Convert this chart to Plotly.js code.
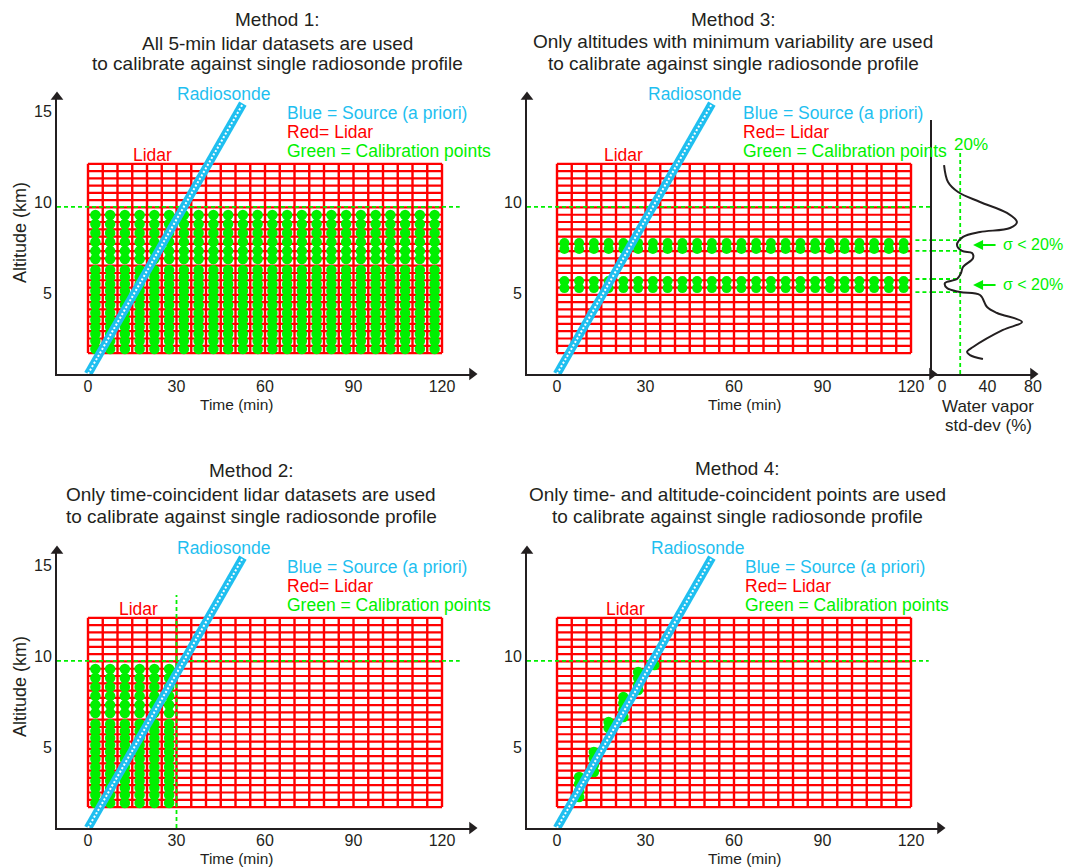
<!DOCTYPE html>
<html><head><meta charset="utf-8">
<script src="https://cdn.plot.ly/plotly-3.0.1.min.js"></script>
<style>html,body{margin:0;padding:0;background:#fff}</style>
</head><body><div id="chart" style="width:1066px;height:867px"></div>
<script>
// ---------------- data ----------------
const lidarTimeEdges = [0,5,10,15,20,25,30,35,40,45,50,55,60,65,70,75,80,85,90,95,100,105,110,115,120];
const lidarAltEdges = [1.7,2.1,2.5,2.9,3.3,3.7,4.1,4.5,4.9,5.3,5.7,6.1,6.5,6.9,7.3,7.7,8.1,8.5,8.9,9.3,9.7,10.1,10.5,10.9,11.3,11.7,12.1];
const profileTimes = [2.5,7.5,12.5,17.5,22.5,27.5,32.5,37.5,42.5,47.5,52.5,57.5,62.5,67.5,72.5,77.5,82.5,87.5,92.5,97.5,102.5,107.5,112.5,117.5];
const m1CalibAlts = [9.29,8.79,8.30,7.80,7.31,6.87,6.26,5.88,5.49,5.11,4.73,4.34,3.90,3.52,3.13,2.75,2.36,1.92];
const m2CalibTimes = [2.5,7.5,12.5,17.5,22.5,27.5];
const m3CalibAlts = [7.75,7.42,5.66,5.27];
const m4CalibTimes = [7.5,7.5,7.5,7.5,12.5,12.5,12.5,12.5,17.5,17.5,22.5,22.5,22.5,22.5,27.5,27.5,27.5,27.5,33];
const m4CalibAlts  = [3.35,2.97,2.58,2.25,4.73,4.40,4.01,3.63,6.37,6.04,7.75,7.42,7.03,6.65,9.12,8.79,8.41,8.13,9.5];
const radiosondeTime = [0, 52.5];
const radiosondeAlt = [0.55, 15.4];
const calibTopAlt = 9.73;          // green dashed "10 km" limit
const m2CutoffTime = 30;           // end of time-coincident datasets
const m2CutoffTop = 13.35;
const stdAlt = [12.03,11.10,10.55,10.0,9.40,8.90,8.57,8.35,8.08,7.64,7.31,7.20,6.92,6.43,6.10,5.77,5.55,5.27,5.05,4.89,4.23,3.90,3.41,2.97,2.03,1.76,1.59,1.37];
const stdDev = [1.8,5.3,14.1,33.4,57.1,65.9,59.8,33.4,18.5,13.2,17.6,26.4,27.3,18.5,16.7,13.2,2.6,4.4,15.8,33.4,39.6,48.4,70.3,53.6,27.3,22.0,24.6,36.0];
const thresholdPct = 16;
const thresholdTop = 12.86;
const lowSigmaAlts = [7.91,7.31,5.77,5.05];
const timeTicks = [0,30,60,90,120];
const stdTicks = [0,40,80];

// ---------------- layout helpers ----------------
const W = 1066, H = 867;
const F = 'Arial, "Liberation Sans", sans-serif';
const INK = '#231f20', RED = '#ff0000', GREEN = '#00f000', CYAN = '#1fbff0';
const px = v => v / W, py = v => 1 - v / H;
const tScale = 2.95, aScale = 18.2;           // px per minute, px per km
const tAt = (p, p0) => (p - p0) / tScale;
const aAt = (p, p0) => (p0 - p) / aScale;

const traces = [];
const annotations = [];

function gridTraces(xa, ya) {
  const hx = [], hy = [], vx = [], vy = [];
  const t0 = lidarTimeEdges[0], t1 = lidarTimeEdges[lidarTimeEdges.length - 1];
  const a0 = lidarAltEdges[0], a1 = lidarAltEdges[lidarAltEdges.length - 1];
  lidarAltEdges.forEach(a => { hx.push(t0, t1, null); hy.push(a, a, null); });
  lidarTimeEdges.forEach(t => { vx.push(t, t, null); vy.push(a0, a1, null); });
  traces.push({x: hx, y: hy, xaxis: xa, yaxis: ya, mode: 'lines', line: {color: RED, width: 2.2}, hoverinfo: 'skip'});
  traces.push({x: vx, y: vy, xaxis: xa, yaxis: ya, mode: 'lines', line: {color: RED, width: 2.4}, hoverinfo: 'skip'});
}
function dots(xs, ys, xa, ya, size) {
  traces.push({x: xs, y: ys, xaxis: xa, yaxis: ya, mode: 'markers',
    marker: {color: GREEN, size: size || 10.5, line: {width: 0}}, hoverinfo: 'skip'});
}
function grid2(times, alts) {
  const x = [], y = [];
  times.forEach(t => alts.forEach(a => { x.push(t); y.push(a); }));
  return [x, y];
}
function dashed(x, y, xa, ya) {
  traces.push({x, y, xaxis: xa, yaxis: ya, mode: 'lines',
    line: {color: GREEN, width: 1.8, dash: '4px,3px'}, hoverinfo: 'skip'});
}
function radiosonde(xa, ya) {
  traces.push({x: radiosondeTime, y: radiosondeAlt, xaxis: xa, yaxis: ya, mode: 'lines',
    line: {color: CYAN, width: 8.5}, hoverinfo: 'skip'});
  traces.push({x: radiosondeTime, y: radiosondeAlt, xaxis: xa, yaxis: ya, mode: 'lines',
    line: {color: '#ffffff', width: 2, dash: '2px,2px'}, hoverinfo: 'skip'});
}
function arrows(xa, ya, xr, yr, up) {
  traces.push({x: [xr[1]], y: [yr[0]], xaxis: xa, yaxis: ya, mode: 'markers', cliponaxis: false,
    marker: {symbol: 'triangle-right', size: 11, color: INK}, hoverinfo: 'skip'});
  if (up) traces.push({x: [xr[0]], y: [yr[1]], xaxis: xa, yaxis: ya, mode: 'markers', cliponaxis: false,
    marker: {symbol: 'triangle-up', size: 11, color: INK}, hoverinfo: 'skip'});
}
function txt(text, x, y, size, color, opts) {
  annotations.push(Object.assign({text, x: px(x), y: py(y), xref: 'paper', yref: 'paper',
    showarrow: false, xanchor: 'center', yanchor: 'middle',
    font: {family: F, size, color}}, opts || {}));
}

// ---------------- panel geometry ----------------
const xrL = [tAt(57, 88), tAt(472, 88)];
const xrR3 = [tAt(527, 557), tAt(932, 557)];
const xrR4 = [tAt(527, 557), tAt(940, 557)];
const yrTop = [aAt(374, 384), aAt(97, 384)];
const yrSide = [aAt(374, 384), aAt(120, 384)];
const sideScale = 1.1375;
const xrSide = [(932 - 942) / sideScale, (1033 - 942) / sideScale];

function axisBase(domain, range) {
  return {domain, range, showgrid: false, zeroline: false, showline: true, linecolor: INK, linewidth: 2,
    ticks: '', tickfont: {family: F, size: 16, color: INK}, fixedrange: true};
}
const xExtra = {ticklabelstandoff: -3};

const layout = {
  width: W, height: H, margin: {l: 0, r: 0, t: 0, b: 0},
  paper_bgcolor: '#fff', plot_bgcolor: 'rgba(0,0,0,0)', showlegend: false,
  xaxis:  Object.assign(axisBase([px(57), px(472)], xrL), xExtra, {anchor: 'y', tickvals: timeTicks}),
  yaxis:  Object.assign(axisBase([py(374), py(97)], yrTop), {anchor: 'x', tickvals: [5, 10, 15]}),
  xaxis2: Object.assign(axisBase([px(527), px(932)], xrR3), xExtra, {anchor: 'y2', tickvals: timeTicks}),
  yaxis2: Object.assign(axisBase([py(374), py(97)], yrTop), {anchor: 'x2', tickvals: [5, 10]}),
  xaxis3: Object.assign(axisBase([px(932), px(1033)], xrSide), xExtra, {anchor: 'y3', tickvals: stdTicks}),
  yaxis3: Object.assign(axisBase([py(374), py(120)], yrSide), {anchor: 'x3', showticklabels: false}),
  xaxis4: Object.assign(axisBase([px(57), px(472)], xrL), xExtra, {anchor: 'y4', tickvals: timeTicks}),
  yaxis4: Object.assign(axisBase([py(828), py(551)], yrTop), {anchor: 'x4', tickvals: [5, 10, 15]}),
  xaxis5: Object.assign(axisBase([px(527), px(940)], xrR4), xExtra, {anchor: 'y5', tickvals: timeTicks}),
  yaxis5: Object.assign(axisBase([py(828), py(551)], yrTop), {anchor: 'x5', tickvals: [5, 10]}),
  annotations
};

// ---------------- Method 1 ----------------
gridTraces('x', 'y');
dots(...grid2(profileTimes, m1CalibAlts), 'x', 'y');
dashed([xrL[0], 126], [calibTopAlt, calibTopAlt], 'x', 'y');
radiosonde('x', 'y');
arrows('x', 'y', xrL, yrTop, true);

// ---------------- Method 3 ----------------
gridTraces('x2', 'y2');
dots(...grid2(profileTimes, m3CalibAlts), 'x2', 'y2', 10);
dashed([xrR3[0], xrR3[1]], [calibTopAlt, calibTopAlt], 'x2', 'y2');
lowSigmaAlts.forEach(a => dashed([121.5, xrR3[1]], [a, a], 'x2', 'y2'));
radiosonde('x2', 'y2');
arrows('x2', 'y2', xrR3, yrTop, true);

// side panel: water vapour std-dev
lowSigmaAlts.forEach(a => dashed([xrSide[0], thresholdPct], [a, a], 'x3', 'y3'));
dashed([thresholdPct, thresholdPct], [yrSide[0], thresholdTop], 'x3', 'y3');
traces.push({x: stdDev, y: stdAlt, xaxis: 'x3', yaxis: 'y3', mode: 'lines',
  line: {color: INK, width: 2, shape: 'spline', smoothing: 1}, hoverinfo: 'skip'});
arrows('x3', 'y3', xrSide, yrSide, false);

// ---------------- Method 2 ----------------
gridTraces('x4', 'y4');
dots(...grid2(m2CalibTimes, m1CalibAlts), 'x4', 'y4');
dashed([xrL[0], 126], [calibTopAlt, calibTopAlt], 'x4', 'y4');
dashed([m2CutoffTime, m2CutoffTime], [yrTop[0], m2CutoffTop], 'x4', 'y4');
radiosonde('x4', 'y4');
arrows('x4', 'y4', xrL, yrTop, true);

// ---------------- Method 4 ----------------
gridTraces('x5', 'y5');
dots(m4CalibTimes, m4CalibAlts, 'x5', 'y5');
dashed([xrR4[0], 126], [calibTopAlt, calibTopAlt], 'x5', 'y5');
radiosonde('x5', 'y5');
arrows('x5', 'y5', xrR4, yrTop, true);

// ---------------- texts ----------------
const titles = [
  [277, [19, 43, 63], ['Method 1:', 'All 5-min lidar datasets are used', 'to calibrate against single radiosonde profile']],
  [733, [19, 42, 63], ['Method 3:', 'Only altitudes with minimum variability are used', 'to calibrate against single radiosonde profile']],
  [251, [470, 494, 516], ['Method 2:', 'Only time-coincident lidar datasets are used', 'to calibrate against single radiosonde profile']],
  [737, [468, 494, 516], ['Method 4:', 'Only time- and altitude-coincident points are used', 'to calibrate against single radiosonde profile']]
];
titles.forEach(([cx, ys, lines]) => lines.forEach((l, i) => txt(l, cx, ys[i], 19, INK)));

// [y shift, lidar label x, legend left, radiosonde label x, time title x, time title y]
const panels = [[0, 152, 285, 223, 236, 404], [0, 623, 741, 694, 745, 404],
                [454, 138, 285, 223, 236, 858], [454, 625, 743, 697, 745, 858]];
panels.forEach(([dy, lidarX, legX, radX, timeX, timeY]) => {
  txt('Radiosonde', radX, 94 + dy, 17.5, CYAN);
  txt('Blue = Source (a priori)', legX, 113 + dy, 17.5, CYAN, {xanchor: 'left'});
  txt('Red= Lidar', legX, 132 + dy, 17.5, RED, {xanchor: 'left'});
  txt('Green = Calibration points', legX, 151 + dy, 17.5, GREEN, {xanchor: 'left'});
  txt('Lidar', lidarX, 155 + dy, 17.5, RED);
  txt('Time (min)', timeX, timeY, 15.5, INK);
});
txt('Altitude (km)', 20, 233, 18, INK, {textangle: -90});
txt('Altitude (km)', 20, 687, 18, INK, {textangle: -90});
txt('Water vapor', 988, 406, 17, INK);
txt('std-dev (%)', 988, 425, 17, INK);
txt('20%', 971, 144, 17, GREEN);
[7.64, 5.44].forEach(a => {
  annotations.push({text: '', x: 27.3, y: a, xref: 'x3', yref: 'y3', ax: 24, ay: 0,
    showarrow: true, arrowhead: 2, arrowsize: 1, arrowwidth: 2, arrowcolor: GREEN});
  annotations.push({text: 'σ < 20%', x: (1001 - 942) / sideScale, y: a, xref: 'x3', yref: 'y3',
    showarrow: false, xanchor: 'left', yanchor: 'middle', font: {family: F, size: 16, color: GREEN}});
});

Plotly.newPlot('chart', traces, layout, {staticPlot: true, displayModeBar: false});
</script></body></html>
